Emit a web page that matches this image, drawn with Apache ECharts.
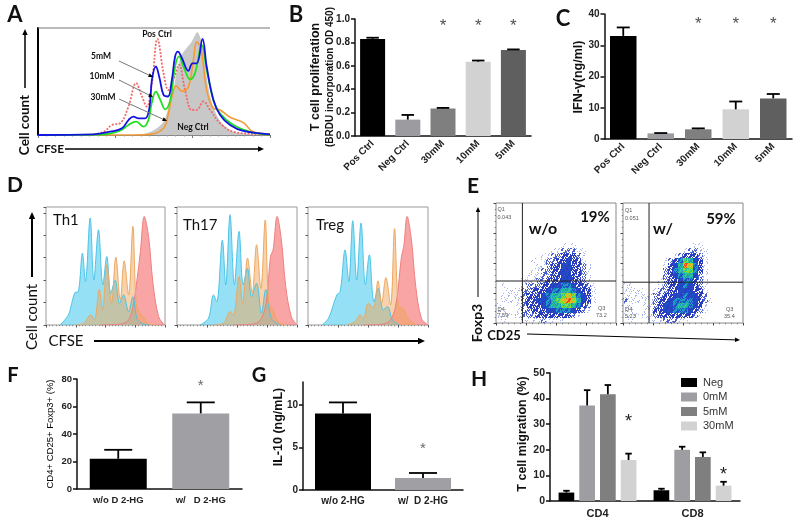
<!DOCTYPE html>
<html lang="en">
<head>
<meta charset="UTF-8">
<title>T cell panels</title>
<style>
    html, body { margin: 0; padding: 0; background: #fff; }
    #main { width: 800px; height: 522px; }
</style>
</head>
<body>
<div id="main"></div>
<script src="https://cdn.jsdelivr.net/npm/echarts@6/dist/echarts.min.js"></script>
<script>
// ---- panel A histograms, x = CFSE position (0-100), y = % of plot height
const aNegX = [41.2,46.9,51.2,54.1,55.5,57,58.4,59.8,62,64.1,66.3,68.7,70.6,72,74.2,77,79.9,84.2,90,98.6];
const aNegY = [0,1.6,6.3,12.5,20.3,32.8,42.2,59.4,75,81.3,87.5,96,86,64,36,18.8,9.4,3.1,1,0];
const a5mMX = [0,24,31.1,36.2,39,41.2,43.3,46.2,48.1,49.1,50.8,52.4,54.1,56,57.7,59.1,60.3,62,64.8,66.6,68.4,70.9,72.7,75.6,78.5,82.8,88.5,100];
const a5mMY = [0,.6,3.1,6.3,14,17.2,15.6,15.6,26.6,51.6,64,53,37.5,36,51.6,73.4,78,72,60,67,67,89.7,64,32.8,18.8,9.4,3.8,.6];
const a10mMX = [0,26.8,35.4,39,42.3,45.5,47.6,49,50.8,52.7,54.8,57,59.1,60.8,62.7,65.6,67.7,70.6,72.7,75.6,78.5,84.2,91.4,100];
const a10mMY = [0,.3,4,9.4,12.5,7.8,14,29.7,40.6,32.8,24,32.8,64,73.4,64,52,58,84,61,32.8,20,9.4,3,.3];
const a30mMX = [0,41.2,48.3,54.1,56.2,57.7,59.6,62,64.8,67,68.4,70.3,72.7,75.6,78.5,82.8,88.5,92.8,100];
const a30mMY = [0,0,.6,6.3,20,36,46,41,45,70,87,80,42,25,23.4,16.6,11.6,3,1];
const aPosX = [22.5,28.3,31.9,35.4,39,42.3,44.8,46.9,49.1,51.5,54.1,56.2,58.4,60.8,63.4,66.3,68.4,71.3,74.2,78.5,84.2,92.8,100];
const aPosY = [0,3,9.4,11,26.6,48.4,36,26.6,48.4,89.7,58,42,51.6,65.6,42,23.4,23.4,31.3,23.4,11,3,1,0];

// ---- panels B and C
const doseCats = ['Pos Ctrl', 'Neg Ctrl', '30mM', '10mM', '5mM'];
const doseColors = ['#000000', '#9c9ca0', '#7f7f7f', '#d2d2d2', '#5f5f5f'];
const bValues = [0.83, 0.14, 0.235, 0.635, 0.735];
const bErrTop = [0.84, 0.18, 0.24, 0.645, 0.74];
const bStars = [[2, 0.97], [3, 0.97], [4, 0.97]];
const cValues = [33, 1.8, 3.1, 9.5, 13];
const cErrTop = [35.7, 1.9, 3.4, 12, 14.4];
const cStars = [[2, 37.8], [3, 37.8], [4, 37.8]];

// ---- panel D histograms
const th1BlueX = [11.8,18.8,21.6,24.4,27.2,30.6,33.1,37.1,40.2,44.1,47.8,51.1,54.5,58.1,61.8,65.2,69.4,73,76.4,80.6,87.6];
const th1BlueY = [0,8.5,18.4,27.5,28.3,60.9,36.8,90.7,38,80.7,34,58,26.9,38,18.4,25.5,11.3,24,5.7,1.4,0];
const th1OrangeX = [24.4,31.5,37.6,40.7,44.7,47.5,51.1,55,58.7,62.4,65.7,69.4,73,75.8,79.2,82,86.2,93.3];
const th1OrangeY = [0,1.4,8.5,4.2,30.3,12.7,51,18.4,57.5,21.2,54.4,25.5,83.6,18.4,9.3,7,.8,0];
const th1RedX = [45.5,62.4,69.4,73.6,76.4,79.2,82.6,86.2,89.9,94.7,99.7];
const th1RedY = [0,.8,4.2,18.4,38,61,92,75,35.4,7,0];
const th17BlueX = [19.3,26.2,30.4,33.1,37.8,40.6,44.2,47.8,51.7,55.2,58.6,62.2,66.3,70.4,74,78.7,85.6];
const th17BlueY = [0,5.7,25.5,19.8,72,34,93.5,34,79.3,34,48,24,35.4,10,30,5.7,0];
const th17OrangeX = [30.4,38.7,44.2,47,51.7,54.7,58.8,62.7,66.3,69.9,73.5,76.5,80.1,84.3,91.2];
const th17OrangeY = [0,1.4,11.3,8.5,41,18.4,56.7,27,68,31,89,18.4,12.7,2.8,0];
const th17RedX = [47,63.5,70.4,74.6,77.9,80.1,83.4,87,90.6,95.3,100];
const th17RedY = [0,.8,5.7,21,58,63.7,92,72,32.6,7,0];
const tregBlueX = [11.6,17.1,24,26.8,30.9,34,37.3,40.6,44.2,47.8,51.1,55,58.6,62.7,66.3,70.4,76.5];
const tregBlueY = [0,5.7,25.5,28.3,63.7,36.8,88.4,38,86.4,34,59.5,19.8,31,12.7,15.6,4.2,0];
const tregOrangeX = [32.3,39.2,43.4,46.1,50.3,54.4,58.3,61.3,64.9,68.8,72.1,75.4,79.3,83.4,90.3];
const tregOrangeY = [0,2.8,8.5,5.7,18.4,14.2,37.4,18.4,40.2,17,81.6,15.6,14.2,5.7,0];
const tregRedX = [46.1,62.7,69.6,73.8,77.9,79.8,82.6,86.2,89.8,94.5,100];
const tregRedY = [0,.8,5.7,21,58,66.6,92,72,32.6,5.7,0];

// ---- panel E density levels, 24 x 24 cells, top row first
const eWithout = [
[0,0,0,0,0,0,0,0,0,0,0,0,0,0,0,0,0,0,0,0,0,0,0,0],
[0,0,0,0,0,0,0,0,0,0,0,0,0,0,0,0,0,0,0,0,0,0,0,0],
[0,0,0,0,0,0,0,0,0,0,0,0,0,0,0,0,0,0,0,0,0,0,0,0],
[0,0,0,0,0,0,0,0,0,0,0,0,0,0,0,0,0,0,0,0,0,0,0,0],
[0,0,0,0,0,0,0,0,0,0,0,0,0,0,0,0,0,0,0,0,0,0,0,0],
[0,0,0,0,0,0,0,0,0,0,0,0,0,0,0,0,0,0,0,0,0,0,0,0],
[0,0,0,0,0,0,0,0,0,0,0,0,0,0,0,0,0,0,0,0,0,0,0,0],
[0,0,0,0,0,0,0,0,0,0,0,0,0,0,0,0,0,0,0,0,0,0,0,0],
[0,0,0,0,0,0,0,0,0,0,0,0,0,1,0,1,0,0,0,0,0,0,0,0],
[0,0,0,0,0,0,0,0,0,0,0,1,1,2,2,2,1,1,0,0,0,0,0,0],
[0,0,0,0,0,0,0,0,0,1,1,2,2,3,3,3,2,1,0,0,0,0,0,0],
[0,0,0,0,0,0,0,1,0,1,2,2,3,3,4,3,3,1,0,0,0,0,0,0],
[0,0,0,0,0,0,0,0,1,1,2,3,3,4,4,3,3,2,1,0,0,0,0,0],
[0,0,0,0,0,0,0,1,1,2,2,3,3,4,4,3,3,2,1,0,0,0,0,0],
[0,0,0,0,0,0,1,1,1,2,2,3,3,4,4,3,3,2,1,0,0,0,0,0],
[0,0,0,0,0,1,1,1,2,2,3,3,3,4,4,3,3,2,1,0,0,0,0,0],
[0,1,0,0,0,1,2,2,2,3,3,4,4,5,5,4,3,3,2,1,0,0,0,0],
[0,0,1,1,1,2,2,3,3,3,4,5,5,6,6,5,4,3,3,1,0,0,0,0],
[0,1,1,1,1,2,3,3,3,4,5,6,6,7,8,7,5,4,3,1,0,0,0,0],
[0,1,1,1,1,2,3,3,4,4,5,6,7,8,9,8,6,4,3,1,0,0,0,0],
[1,0,0,0,1,2,3,3,3,4,5,6,6,7,7,6,5,3,2,0,0,0,0,0],
[1,1,0,0,1,2,2,3,3,3,4,4,5,5,5,4,3,2,1,0,0,0,0,0],
[1,1,1,1,1,2,2,2,3,3,3,3,3,3,3,2,1,0,0,0,0,0,0,0],
[0,1,0,0,0,1,1,1,1,2,1,1,1,1,0,0,0,0,0,0,0,0,0,0]
];
const eWith = [
[0,0,0,0,0,0,0,0,0,0,0,0,0,0,0,0,0,0,0,0,0,0,0,0],
[0,0,0,0,0,0,0,0,0,0,0,0,0,0,0,0,0,0,0,0,0,0,0,0],
[0,0,0,0,0,0,0,0,0,0,0,0,0,0,0,0,0,0,0,0,0,0,0,0],
[0,0,0,0,0,0,0,0,0,0,0,0,0,0,0,0,0,0,0,0,0,0,0,0],
[0,0,0,0,0,0,0,0,0,0,0,0,0,0,0,0,0,0,0,0,0,0,0,0],
[0,0,0,0,0,0,0,0,0,0,0,0,0,0,0,0,0,0,0,0,0,0,0,0],
[0,0,0,0,0,0,0,0,0,0,0,0,0,0,0,0,0,0,0,0,0,0,0,0],
[0,0,0,0,0,0,0,0,0,0,0,0,0,0,0,0,0,0,0,0,0,0,0,0],
[0,0,0,0,0,0,0,0,0,0,0,0,0,0,1,1,0,0,0,0,0,0,0,0],
[0,0,0,0,0,0,0,0,0,0,0,0,1,2,2,1,1,0,0,0,0,0,0,0],
[0,0,0,0,0,0,0,0,0,0,1,2,3,3,3,2,1,0,0,0,0,0,0,0],
[0,0,0,0,0,0,0,0,1,2,3,5,7,6,4,3,1,0,0,0,0,0,0,0],
[0,0,0,0,0,0,0,0,1,3,4,6,9,8,5,3,1,0,0,0,0,0,0,0],
[0,0,0,0,0,0,0,0,2,3,5,6,7,7,5,3,1,0,0,0,0,0,0,0],
[0,0,0,0,0,0,0,0,2,3,4,5,6,6,4,2,1,0,0,0,0,0,0,0],
[0,0,0,0,0,0,0,1,2,3,3,4,5,5,3,2,1,0,0,0,0,0,0,0],
[1,1,0,0,0,0,0,1,2,3,3,4,5,4,3,2,1,0,0,0,0,0,0,0],
[1,1,1,1,0,0,1,2,2,3,3,4,4,4,3,3,1,0,0,0,0,0,0,0],
[1,1,1,1,1,1,2,2,3,3,4,4,5,4,4,3,2,0,0,0,0,0,0,0],
[2,1,1,1,1,1,2,3,3,4,5,5,5,5,4,3,2,1,0,0,0,0,0,0],
[1,1,0,0,1,1,2,3,4,4,5,6,6,5,4,3,1,0,0,0,0,0,0,0],
[1,1,0,0,1,1,3,3,4,4,5,5,5,4,3,2,1,0,0,0,0,0,0,0],
[1,1,1,1,1,1,2,3,3,3,3,3,3,3,2,1,0,0,0,0,0,0,0,0],
[0,1,0,0,0,1,1,1,2,2,2,1,1,0,0,0,0,0,0,0,0,0,0,0]
];
const levelColors = ['#ffffff', '#a8b4ec', '#4a5fd0', '#2a3cc0', '#2050c8', '#1e9cc4', '#2cc88c', '#8cdc30', '#f5b01e', '#ea4c1c'];
// gate position in % of each plot: [CD25, Foxp3]
const eGateWithout = [22, 35];
const eGateWith = [21.7, 34];

// ---- panels F, G, H
const fCats = ['w/o D 2-HG', 'w/   D 2-HG'];
const fValues = [22, 55];
const fErrTop = [28.5, 63];
const fStars = [[1, 77]];
const gCats = ['w/o 2-HG', 'w/  D 2-HG'];
const gValues = [9, 1.4];
const gErrTop = [10.3, 2];
const gStars = [[1, 5.2]];
const hCats = ['CD4', 'CD8'];
const hSeries = ['Neg', '0mM', '5mM', '30mM'];
const hColors = ['#000000', '#9e9ea2', '#7f7f7f', '#d2d2d2'];
const hValues = [[3.3, 4.2], [37.3, 20], [41.7, 17.2], [16, 6]];
const hErrTop = [[4, 4.8], [43.3, 21.2], [45.3, 19], [18.5, 7.5]];
const hStars = [[0, 16, 30.8], [1, 16, 10]];

const FONT = '"Liberation Sans", Arial, sans-serif';
const HEAD = 'Lato, "Open Sans", sans-serif';

let grids = [], xAxes = [], yAxes = [], series = [], graphics = [];

function zip(xs, ys) { return xs.map((x, i) => [x, ys[i]]); }

function addGrid(left, top, width, height, xAxis, yAxis, extra) {
    let i = grids.length;
    grids.push(Object.assign({left: left, top: top, width: width, height: height, containLabel: false}, extra || {}));
    xAxes.push(Object.assign({gridIndex: i}, xAxis));
    yAxes.push(Object.assign({gridIndex: i}, yAxis));
    return i;
}

function text(x, y, str, font, opts) {
    opts = opts || {};
    graphics.push({
        type: 'text', x: x, y: y, rotation: opts.rotation || 0, z: 50, silent: true,
        style: {text: str, font: font, fill: opts.color || '#111', align: opts.align || 'center', verticalAlign: 'middle'}
    });
}

function arrow(x1, y1, x2, y2, color, width, head) {
    let ang = Math.atan2(y2 - y1, x2 - x1), h = head || 6;
    let bx = x2 - Math.cos(ang) * h, by = y2 - Math.sin(ang) * h;
    let nx = -Math.sin(ang) * h * 0.45, ny = Math.cos(ang) * h * 0.45;
    graphics.push({type: 'line', z: 50, silent: true, shape: {x1: x1, y1: y1, x2: bx, y2: by}, style: {stroke: color, lineWidth: width}});
    graphics.push({type: 'polygon', z: 50, silent: true, shape: {points: [[x2, y2], [bx + nx, by + ny], [bx - nx, by - ny]]}, style: {fill: '#000'}});
}

function errorSeries(grid, values, tops, cap, dx) {
    return {
        type: 'custom', xAxisIndex: grid, yAxisIndex: grid, z: 5, silent: true, clip: false,
        data: values.map((v, i) => [i, v, tops[i]]),
        renderItem: function (params, api) {
            let lo = api.coord([api.value(0), api.value(1)]);
            let hi = api.coord([api.value(0), api.value(2)]);
            let x = lo[0] + (dx || 0);
            let style = {stroke: '#000', lineWidth: 1.8};
            return {type: 'group', children: [
                {type: 'line', shape: {x1: x, y1: lo[1], x2: x, y2: hi[1]}, style: style},
                {type: 'line', shape: {x1: x - cap / 2, y1: hi[1], x2: x + cap / 2, y2: hi[1]}, style: style}
            ]};
        }
    };
}

function starSeries(grid, stars, size, color) {
    return {
        type: 'scatter', xAxisIndex: grid, yAxisIndex: grid, silent: true, z: 6, symbolSize: 1, clip: false,
        itemStyle: {color: 'rgba(0,0,0,0)'},
        data: stars,
        label: {show: true, formatter: '*', position: 'inside', offset: [0, size * 0.2],
            fontFamily: FONT, fontSize: size, color: color || '#222'}
    };
}

function barAxis(cats, labelSize, rotate, margin) {
    return {
        type: 'category', data: cats,
        axisLine: {lineStyle: {color: '#111', width: 1.5}},
        axisTick: {alignWithLabel: true, length: 4, lineStyle: {color: '#111', width: 1.5}},
        axisLabel: {interval: 0, rotate: rotate || 0, margin: margin || 6, fontFamily: FONT, fontWeight: 'bold', fontSize: labelSize, color: '#222'}
    };
}

function valueAxis(max, interval, size, formatter) {
    return {
        type: 'value', min: 0, max: max, interval: interval, splitLine: {show: false},
        axisLine: {show: true, lineStyle: {color: '#111', width: 1.5}},
        axisTick: {show: true, length: 4, lineStyle: {color: '#111', width: 1.5}},
        axisLabel: {fontFamily: FONT, fontWeight: 'bold', fontSize: size, color: '#222', margin: 5, formatter: formatter}
    };
}

function singleBars(grid, values, colors, barWidth) {
    return {
        type: 'bar', xAxisIndex: grid, yAxisIndex: grid, barWidth: barWidth, silent: true,
        data: values.map((v, i) => ({value: v, itemStyle: {color: colors[i]}}))
    };
}

// ---- A
let ga = addGrid(38, 28, 232, 107,
    {type: 'value', min: 0, max: 100, interval: 100 / 3, splitLine: {show: false}, axisLabel: {show: false},
        axisLine: {lineStyle: {color: '#888', width: 1}},
        axisTick: {length: 3, lineStyle: {color: '#777'}},
        minorTick: {show: true, splitNumber: 9, length: 1.5, lineStyle: {color: '#999'}}},
    {type: 'value', min: 0, max: 100, splitLine: {show: false}, axisLabel: {show: false}, axisTick: {show: false},
        axisLine: {show: true, lineStyle: {color: '#000', width: 2}}});

function aLine(xs, ys, color, width, type) {
    series.push({
        type: 'line', xAxisIndex: ga, yAxisIndex: ga, data: zip(xs, ys), showSymbol: false, silent: true,
        smooth: 0.4, lineStyle: {color: color, width: width, type: type || 'solid'}
    });
}
series.push({
    type: 'line', xAxisIndex: ga, yAxisIndex: ga, data: zip(aNegX, aNegY), showSymbol: false, silent: true,
    smooth: 0.3, lineStyle: {width: 0}, areaStyle: {color: '#c8c8c8', opacity: 1}
});
aLine(aPosX, aPosY, '#f0686a', 1.8, [2, 1.5]);
aLine(a30mMX, a30mMY, '#f59a30', 1.6);
aLine(a10mMX, a10mMY, '#20e020', 1.8);
aLine(a5mMX, a5mMY, '#1414e0', 1.8);
graphics.push({type: 'line', z: 4, silent: true, shape: {x1: 38, y1: 28, x2: 270, y2: 28}, style: {stroke: '#777', lineWidth: 1}});
text(157, 34, 'Pos Ctrl', 'bold 8.5px ' + HEAD);
text(101, 56, '5mM', 'bold 8.5px ' + HEAD);
text(102, 76, '10mM', 'bold 8.5px ' + HEAD);
text(103, 97, '30mM', 'bold 8.5px ' + HEAD);
text(193, 127, 'Neg Ctrl', 'bold 8.5px ' + HEAD);
arrow(119, 61, 153, 77, '#777', 1, 4.5);
arrow(119, 80, 153, 97, '#777', 1, 4.5);
arrow(119, 99, 167, 121, '#777', 1, 4.5);
text(25, 125, 'Cell count', 'bold 13.5px ' + HEAD, {rotation: Math.PI / 2});
arrow(25, 88, 25, 29, '#000', 1.5, 6);
text(50, 149, 'CFSE', 'bold 12px ' + HEAD);
arrow(65, 149, 264, 149, '#000', 1.5, 6);

// ---- B
let gb = addGrid(355, 19, 176, 117, barAxis(doseCats, 10, 45, 6), valueAxis(1, 0.2, 10, v => v.toFixed(1)));
series.push(singleBars(gb, bValues, doseColors, 25));
series.push(errorSeries(gb, bValues, bErrTop, 12.5));
series.push(starSeries(gb, bStars, 17));
text(316, 77, 'T cell proliferation', 'bold 12.5px ' + FONT, {rotation: Math.PI / 2});
text(330, 77, '(BRDU incorporation OD 450)', 'bold 10px ' + FONT, {rotation: Math.PI / 2});

// ---- C
let gc = addGrid(604.5, 14, 187.5, 125, barAxis(doseCats, 10, 45, 6), valueAxis(40, 10, 10));
series.push(singleBars(gc, cValues, doseColors, 26.5));
series.push(errorSeries(gc, cValues, cErrTop, 13));
series.push(starSeries(gc, cStars, 17));
text(579, 77, 'IFN-γ(ng/ml)', 'bold 12.5px ' + FONT, {rotation: Math.PI / 2});

// ---- D
function flowPanel(left, width, red, blue, orange, label, lx, ly) {
    let g = addGrid(left, 207, width, 118,
        {type: 'value', min: 0, max: 100, interval: 25, splitLine: {show: false}, axisLabel: {show: false},
            axisLine: {show: false}, axisTick: {length: 2.5, lineStyle: {color: '#555'}},
            minorTick: {show: true, splitNumber: 9, length: 1.2, lineStyle: {color: '#888'}}},
        {type: 'value', min: 0, max: 100, interval: 19, splitLine: {show: false}, axisLabel: {show: false},
            axisLine: {show: false}, axisTick: {show: true, length: 2.5, lineStyle: {color: '#555'}}},
        {show: true, borderColor: '#9a9a9a', borderWidth: 1});
    [[red, '#ee7f7f', '#f77f80', 0.7], [blue, '#4dc3e6', '#56cdf0', 0.62], [orange, '#eda860', '#f0a65a', 0.5]].forEach(s => {
        series.push({
            type: 'line', xAxisIndex: g, yAxisIndex: g, data: s[0], showSymbol: false, silent: true, smooth: 0.35,
            lineStyle: {color: s[1], width: 1}, areaStyle: {color: s[2], opacity: s[3]}
        });
    });
    text(lx, ly, label, '15px ' + HEAD, {align: 'left'});
}
flowPanel(46, 119, zip(th1RedX, th1RedY), zip(th1BlueX, th1BlueY), zip(th1OrangeX, th1OrangeY), 'Th1', 53, 220);
flowPanel(177, 120, zip(th17RedX, th17RedY), zip(th17BlueX, th17BlueY), zip(th17OrangeX, th17OrangeY), 'Th17', 183, 225);
flowPanel(308, 120, zip(tregRedX, tregRedY), zip(tregBlueX, tregBlueY), zip(tregOrangeX, tregOrangeY), 'Treg', 316, 225);
text(32, 317, 'Cell count', '15px ' + HEAD, {rotation: Math.PI / 2});
arrow(32, 277, 32, 212, '#000', 2, 7);
text(66, 341, 'CFSE', '15px ' + HEAD);
arrow(94, 341, 425, 341, '#000', 2, 7);

// ---- E
// fixed fill order of the 25 pixels in a cell, so a cell reads as dots instead of a flat block
const dotOrder = [12,3,21,7,16,0,18,9,24,5,14,1,22,10,19,6,2,23,11,15,4,20,8,17,13];
const dotCounts = [0, 4, 11, 17, 25, 25, 25, 25, 25, 25];

function densityPanel(left, levels, gate) {
    let gh = addGrid(left, 203, 120, 120,
        {type: 'category', data: levels[0].map((v, i) => i), show: false},
        {type: 'category', data: levels.map((v, i) => i), inverse: true, show: false});
    let cells = [];
    levels.forEach((row, r) => row.forEach((v, c) => { if (v > 0) cells.push([c, r, v]); }));
    series.push({
        type: 'custom', xAxisIndex: gh, yAxisIndex: gh, data: cells, silent: true,
        renderItem: function (params, api) {
            let p = api.coord([api.value(0), api.value(1)]);
            let level = api.value(2), kids = [];
            let x0 = Math.round(p[0] - 2.5), y0 = Math.round(p[1] - 2.5);
            let shift = api.value(0) * 7 + api.value(1) * 13;
            if (level >= 4) {
                kids.push({type: 'rect', shape: {x: x0, y: y0, width: 5, height: 5}, style: {fill: levelColors[level - 1]}});
            }
            let n = level >= 4 ? 13 : dotCounts[level];
            for (let i = 0; i < n; i++) {
                let k = dotOrder[(i + shift) % 25];
                kids.push({type: 'rect', shape: {x: x0 + k % 5, y: y0 + Math.floor(k / 5), width: 1, height: 1}, style: {fill: levelColors[level]}});
            }
            return {type: 'group', children: kids};
        }
    });
    let g = addGrid(left, 203, 120, 120,
        {type: 'value', min: 0, max: 100, interval: 25, splitLine: {show: false}, axisLabel: {show: false},
            axisLine: {show: false}, axisTick: {length: 2.5, lineStyle: {color: '#444'}},
            minorTick: {show: true, splitNumber: 5, length: 1.2, lineStyle: {color: '#777'}}},
        {type: 'value', min: 0, max: 100, interval: 25, splitLine: {show: false}, axisLabel: {show: false},
            axisLine: {show: false}, axisTick: {show: true, length: 2.5, lineStyle: {color: '#444'}},
            minorTick: {show: true, splitNumber: 5, length: 1.2, lineStyle: {color: '#777'}}},
        {show: true, borderColor: '#888', borderWidth: 1});
    [[[gate[0], 0], [gate[0], 100]], [[0, gate[1]], [100, gate[1]]]].forEach(d => {
        series.push({type: 'line', xAxisIndex: g, yAxisIndex: g, data: d, showSymbol: false, silent: true, z: 8,
            lineStyle: {color: '#222', width: 1}});
    });
}
densityPanel(496, eWithout, eGateWithout);
densityPanel(623, eWith, eGateWith);

text(497.5, 209, 'Q1', '5.5px ' + FONT, {align: 'left', color: '#555'});
text(497.5, 217, '0.043', '5.5px ' + FONT, {align: 'left', color: '#555'});
text(497.5, 309, 'Q4', '5.5px ' + FONT, {align: 'left', color: '#555'});
text(497.5, 315, '7.59', '5.5px ' + FONT, {align: 'left', color: '#555'});
text(598, 308, 'Q3', '5.5px ' + FONT, {align: 'left', color: '#555'});
text(596, 315, '73.2', '5.5px ' + FONT, {align: 'left', color: '#555'});
text(625, 210, 'Q1', '5.5px ' + FONT, {align: 'left', color: '#555'});
text(625, 218, '0.051', '5.5px ' + FONT, {align: 'left', color: '#555'});
text(625, 309, 'Q4', '5.5px ' + FONT, {align: 'left', color: '#555'});
text(625, 316, '5.23', '5.5px ' + FONT, {align: 'left', color: '#555'});
text(726, 309, 'Q3', '5.5px ' + FONT, {align: 'left', color: '#555'});
text(724, 316, '35.4', '5.5px ' + FONT, {align: 'left', color: '#555'});
text(543, 229, 'w/o', 'bold 16px ' + HEAD);
text(595, 217, '19%', 'bold 15px ' + HEAD);
text(663, 229, 'w/', 'bold 16px ' + HEAD);
text(721, 219, '59%', 'bold 15px ' + HEAD);
text(477, 323, 'Foxp3', 'bold 14px ' + HEAD, {rotation: Math.PI / 2});
arrow(478, 297, 478, 207, '#000', 1, 5);
text(504, 336, 'CD25', 'bold 13px ' + HEAD);
arrow(527, 334, 740, 340, '#000', 1, 5);

// ---- F
let gf = addGrid(77, 379, 165, 110, barAxis(fCats, 9.5, 0, 6),
    Object.assign(valueAxis(80, 20, 9.5), {
        name: 'CD4+ CD25+ Foxp3+ (%)', nameLocation: 'middle', nameRotate: 90, nameGap: 22,
        nameTextStyle: {fontFamily: FONT, fontSize: 9.5, color: '#000'}
    }));
series.push(singleBars(gf, fValues, ['#000000', '#a0a0a4'], 57));
series.push(errorSeries(gf, fValues, fErrTop, 28));
series.push(starSeries(gf, fStars, 15, '#444'));

// ---- G
let gg = addGrid(303, 382, 160, 108, barAxis(gCats, 10, 0, 6),
    Object.assign(valueAxis(12.7, 5, 10), {axisTick: {show: true, length: 4, customValues: [0, 5, 10], lineStyle: {color: '#111', width: 1.5}},
        axisLabel: {customValues: [0, 5, 10], fontFamily: FONT, fontWeight: 'bold', fontSize: 10, color: '#222', margin: 5}}));
series.push(singleBars(gg, gValues, ['#000000', '#a0a0a4'], 56));
series.push(errorSeries(gg, gValues, gErrTop, 28));
series.push(starSeries(gg, gStars, 15, '#444'));
text(279, 427, 'IL-10 (ng/mL)', 'bold 12.5px ' + FONT, {rotation: Math.PI / 2});

// ---- H
let gh = addGrid(550, 373, 190, 128, barAxis(hCats, 11, 0, 7), valueAxis(50, 10, 10.5));
hSeries.forEach((name, k) => {
    series.push({
        name: name, type: 'bar', xAxisIndex: gh, yAxisIndex: gh, barWidth: 15.7, barGap: '32%', silent: true,
        itemStyle: {color: hColors[k]}, data: hValues[k]
    });
    series.push(errorSeries(gh, hValues[k], hErrTop[k], 6.5, (k - 1.5) * 20.7));
});
text(523, 434, 'T cell migration (%)', 'bold 12.5px ' + FONT, {rotation: Math.PI / 2});
// asterisks over the 30mM bars
series.push({
    type: 'custom', xAxisIndex: gh, yAxisIndex: gh, z: 6, silent: true, clip: false, data: hStars,
    renderItem: function (params, api) {
        let p = api.coord([api.value(0), api.value(2)]);
        return {type: 'text', x: p[0] + 1.5 * 20.7, y: p[1], style: {text: '*', font: '18px ' + FONT, fill: '#222', align: 'center', verticalAlign: 'middle'}};
    }
});

// ---- panel letters
text(15, 15, 'A', 'bold 22px ' + HEAD);
text(296, 15, 'B', 'bold 22px ' + HEAD);
text(563, 19, 'C', 'bold 22px ' + HEAD);
text(15, 185, 'D', 'bold 21px ' + HEAD);
text(473, 186, 'E', 'bold 21px ' + HEAD);
text(13, 376, 'F', 'bold 20px ' + HEAD);
text(259, 376, 'G', 'bold 20px ' + HEAD);
text(479, 379, 'H', 'bold 21px ' + HEAD);

let myChart = echarts.init(document.getElementById('main'), null, {renderer: 'canvas'});
myChart.setOption({
    animation: false,
    backgroundColor: '#fff',
    grid: grids,
    xAxis: xAxes,
    yAxis: yAxes,
    legend: {
        left: 676, top: 372, orient: 'vertical', itemWidth: 16, itemHeight: 9, itemGap: 3.5, selectedMode: false,
        icon: 'rect', data: hSeries, textStyle: {fontFamily: FONT, fontSize: 11, color: '#333', padding: [0, 0, 0, 1]}
    },
    graphic: {elements: graphics},
    series: series
});
</script>
</body>
</html>
